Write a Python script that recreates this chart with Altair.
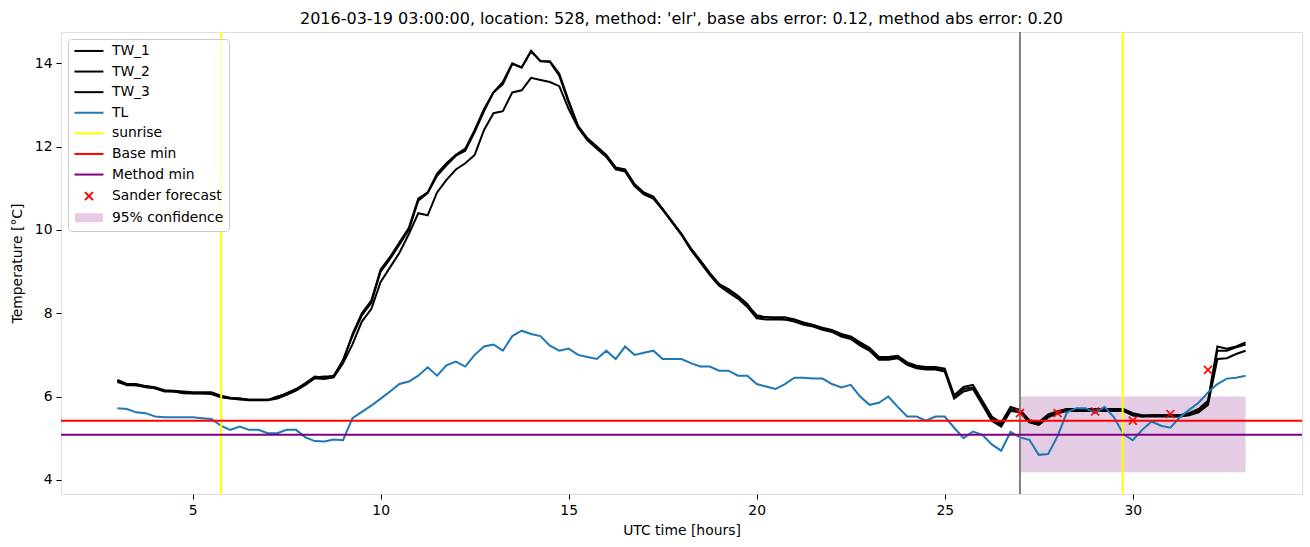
import altair as alt
import pandas as pd

# ---------------- data ----------------
hours = [round(3 + 0.25 * i, 2) for i in range(121)]

tw1 = [6.40, 6.30, 6.30, 6.25, 6.22, 6.15, 6.14, 6.12, 6.10, 6.10,
       6.10, 6.02, 5.97, 5.95, 5.92, 5.92, 5.92, 5.98, 6.08, 6.18,
       6.32, 6.48, 6.45, 6.50, 6.85, 7.50, 8.00, 8.30, 9.05, 9.35,
       9.70, 10.05, 10.75, 10.90, 11.35, 11.60, 11.80, 11.95, 12.40, 12.90,
       13.30, 13.55, 14.00, 13.90, 14.30, 14.05, 14.05, 13.75, 13.10, 12.50,
       12.20, 12.00, 11.80, 11.50, 11.45, 11.10, 10.90, 10.80, 10.50, 10.20,
       9.90, 9.55, 9.25, 8.95, 8.70, 8.55, 8.40, 8.20, 7.95, 7.90,
       7.90, 7.90, 7.85, 7.75, 7.72, 7.65, 7.60, 7.50, 7.44, 7.30,
       7.17, 6.95, 6.95, 6.98, 6.82, 6.74, 6.71, 6.71, 6.67, 6.03,
       6.23, 6.28, 5.90, 5.52, 5.37, 5.75, 5.68, 5.43, 5.38, 5.57,
       5.65, 5.70, 5.70, 5.70, 5.70, 5.70, 5.70, 5.70, 5.60, 5.55,
       5.55, 5.55, 5.55, 5.55, 5.60, 5.70, 5.90, 7.20, 7.15, 7.20,
       7.30]

tw2 = [6.35, 6.28, 6.27, 6.22, 6.20, 6.12, 6.12, 6.08, 6.07, 6.07,
       6.06, 5.98, 5.95, 5.93, 5.91, 5.91, 5.91, 5.95, 6.04, 6.14,
       6.28, 6.44, 6.42, 6.46, 6.80, 7.25, 7.80, 8.10, 8.75, 9.10,
       9.45, 9.90, 10.40, 10.35, 10.90, 11.20, 11.45, 11.60, 11.80, 12.40,
       12.80, 12.85, 13.30, 13.35, 13.65, 13.60, 13.55, 13.45, 12.90, 12.45,
       12.15, 11.95, 11.75, 11.45, 11.40, 11.05, 10.85, 10.75, 10.48, 10.18,
       9.88, 9.52, 9.22, 8.92, 8.66, 8.50, 8.35, 8.15, 7.88, 7.85,
       7.85, 7.85, 7.80, 7.72, 7.68, 7.60, 7.55, 7.44, 7.38, 7.22,
       7.10, 6.88, 6.88, 6.92, 6.76, 6.68, 6.65, 6.65, 6.60, 5.95,
       6.12, 6.18, 5.80, 5.42, 5.28, 5.65, 5.62, 5.38, 5.32, 5.50,
       5.60, 5.65, 5.65, 5.65, 5.65, 5.65, 5.65, 5.65, 5.55, 5.52,
       5.52, 5.52, 5.52, 5.52, 5.55, 5.62, 5.80, 6.90, 6.92, 7.02,
       7.10]

tw3 = [6.38, 6.27, 6.27, 6.25, 6.20, 6.14, 6.12, 6.10, 6.08, 6.08,
       6.08, 6.00, 5.96, 5.95, 5.92, 5.92, 5.92, 6.00, 6.06, 6.16,
       6.30, 6.46, 6.48, 6.48, 6.88, 7.45, 7.95, 8.25, 9.00, 9.30,
       9.65, 10.00, 10.70, 10.88, 11.30, 11.55, 11.78, 11.90, 12.35, 12.85,
       13.30, 13.50, 13.98, 13.90, 14.28, 14.05, 14.03, 13.70, 13.05, 12.48,
       12.18, 11.98, 11.78, 11.48, 11.42, 11.08, 10.88, 10.78, 10.50, 10.20,
       9.90, 9.55, 9.27, 8.97, 8.70, 8.58, 8.42, 8.22, 7.90, 7.90,
       7.88, 7.85, 7.85, 7.78, 7.72, 7.62, 7.58, 7.48, 7.40, 7.26,
       7.14, 6.92, 6.92, 6.95, 6.80, 6.70, 6.68, 6.68, 6.62, 6.00,
       6.18, 6.22, 5.85, 5.48, 5.32, 5.70, 5.65, 5.40, 5.35, 5.52,
       5.62, 5.70, 5.70, 5.68, 5.68, 5.70, 5.68, 5.68, 5.55, 5.52,
       5.55, 5.55, 5.55, 5.55, 5.58, 5.65, 5.85, 7.10, 7.10, 7.18,
       7.25]

tl = [5.72, 5.70, 5.62, 5.60, 5.52, 5.50, 5.50, 5.50, 5.50, 5.48,
      5.46, 5.30, 5.20, 5.28, 5.20, 5.20, 5.12, 5.12, 5.20, 5.20,
      5.02, 4.93, 4.92, 4.97, 4.95, 5.48, 5.63, 5.78, 5.95, 6.12,
      6.30, 6.36, 6.50, 6.70, 6.50, 6.75, 6.84, 6.72, 7.00, 7.20,
      7.25, 7.10, 7.45, 7.58, 7.50, 7.45, 7.22, 7.10, 7.15, 7.00,
      6.95, 6.90, 7.10, 6.90, 7.20, 7.00, 7.05, 7.10, 6.90, 6.90,
      6.90, 6.80, 6.72, 6.72, 6.62, 6.62, 6.50, 6.50, 6.30, 6.24,
      6.18, 6.30, 6.45, 6.45, 6.43, 6.43, 6.30, 6.22, 6.28, 6.00,
      5.80, 5.85, 6.00, 5.75, 5.52, 5.52, 5.42, 5.52, 5.52, 5.25,
      5.00, 5.16, 5.08, 4.85, 4.70, 5.15, 5.02, 4.96, 4.60, 4.62,
      5.05, 5.62, 5.72, 5.72, 5.60, 5.75, 5.50, 5.10, 4.95, 5.20,
      5.40, 5.30, 5.25, 5.50, 5.68, 5.85, 6.10, 6.30, 6.43, 6.45,
      6.50]

sunrise_hours = [5.76, 29.73]
forecast_hour = [27.0]
base_min = [5.42]
method_min = [5.08]
sander_hours = [27, 28, 29, 30, 31, 32]
sander_values = [5.60, 5.60, 5.64, 5.42, 5.58, 6.64]
conf_hours = [27.0, 33.0]
conf_bounds = [4.18, 6.00]

series_names = ["TW_1", "TW_2", "TW_3", "TL", "sunrise", "Base min",
                "Method min", "Sander forecast", "95% confidence"]
series_colors = ["#000000", "#000000", "#000000", "#1f77b4", "#ffff00",
                 "#ff0000", "#800080", "#ff0000", "#e3cce4"]

LINE = "M-2.9,0H2.9"
CROSS = "M-0.8,-0.8L0.8,0.8M0.8,-0.8L-0.8,0.8"
BOX = "M-2.8,-0.7H2.8M-2.8,-0.35H2.8M-2.8,0H2.8M-2.8,0.35H2.8M-2.8,0.7H2.8"
series_shapes = [LINE] * 7 + [CROSS, BOX]

# ---------------- tables ----------------
rows = []
for name, vals in [("TW_1", tw1), ("TW_2", tw2), ("TW_3", tw3), ("TL", tl)]:
    for h, v in zip(hours, vals):
        rows.append({"hour": h, "temp": v, "series": name})
lines_df = pd.DataFrame(rows)

sun_df = pd.DataFrame({"hour": sunrise_hours, "series": ["sunrise"] * len(sunrise_hours)})
fc_df = pd.DataFrame({"hour": forecast_hour})
hmin_df = pd.DataFrame({"temp": base_min + method_min,
                        "series": ["Base min"] * len(base_min) + ["Method min"] * len(method_min)})
sander_df = pd.DataFrame({"hour": sander_hours, "temp": sander_values,
                          "series": ["Sander forecast"] * len(sander_hours)})
conf_df = pd.DataFrame({"x1": [conf_hours[0]], "x2": [conf_hours[1]],
                        "y1": [conf_bounds[0]], "y2": [conf_bounds[1]]})

FONT = "DejaVu Sans"
xscale = alt.Scale(domain=[1.5, 34.5], nice=False, zero=False)
yscale = alt.Scale(domain=[3.66, 14.75], nice=False, zero=False)

xaxis = alt.Axis(values=[5, 10, 15, 20, 25, 30], title="UTC time [hours]", grid=False,
                 tickSize=5, tickColor="black", domain=False, labelFontSize=13.9,
                 labelColor="black", labelFont=FONT, labelPadding=4,
                 titleFont=FONT, titleFontSize=13.9, titleFontWeight="normal",
                 titleColor="black", titlePadding=7)
yaxis = alt.Axis(values=[4, 6, 8, 10, 12, 14], title="Temperature [°C]", grid=False,
                 tickSize=5, tickColor="black", domain=False, labelFontSize=13.9,
                 labelColor="black", labelFont=FONT, labelPadding=4,
                 titleFont=FONT, titleFontSize=13.9, titleFontWeight="normal",
                 titleColor="black", titlePadding=10)

# stroke scale covers only the drawn lines/rules (domain differs from the legend scale)
stroke_names = series_names[:7]
stroke_scale = alt.Scale(domain=stroke_names, range=series_colors[:7])

conf = alt.Chart(conf_df).mark_rect(color="#e3cce4").encode(
    x=alt.X("x1:Q", scale=xscale, axis=xaxis),
    x2="x2:Q",
    y=alt.Y("y1:Q", scale=yscale, axis=yaxis),
    y2="y2:Q",
)

lines = alt.Chart(lines_df).mark_line(strokeWidth=2).encode(
    x=alt.X("hour:Q", scale=xscale),
    y=alt.Y("temp:Q", scale=yscale),
    stroke=alt.Stroke("series:N", scale=stroke_scale, legend=None),
    detail="series:N",
)

sun = alt.Chart(sun_df).mark_rule(strokeWidth=2).encode(
    x=alt.X("hour:Q", scale=xscale),
    stroke=alt.Stroke("series:N", scale=stroke_scale, legend=None),
)

fc = alt.Chart(fc_df).mark_rule(strokeWidth=2, color="#808080").encode(
    x=alt.X("hour:Q", scale=xscale),
)

hmins = alt.Chart(hmin_df).mark_rule(strokeWidth=2).encode(
    y=alt.Y("temp:Q", scale=yscale),
    stroke=alt.Stroke("series:N", scale=stroke_scale, legend=None),
)

legend = alt.Legend(
    title=None, orient="none", legendX=7, legendY=7,
    symbolSize=100, symbolStrokeWidth=2, symbolOffset=9, labelOffset=16,
    labelFont=FONT, labelFontSize=13.9, labelColor="black", labelLimit=400,
    padding=5, rowPadding=5.6, fillColor="rgba(255,255,255,0.8)",
    strokeColor="#cccccc", cornerRadius=3,
)

sander = alt.Chart(sander_df).mark_point(filled=False, size=100, strokeWidth=1.6, opacity=1).encode(
    x=alt.X("hour:Q", scale=xscale),
    y=alt.Y("temp:Q", scale=yscale),
    color=alt.Color("series:N", scale=alt.Scale(domain=series_names, range=series_colors),
                    legend=legend),
    shape=alt.Shape("series:N", scale=alt.Scale(domain=series_names, range=series_shapes),
                    legend=legend),
)

chart = alt.layer(conf, lines, sun, fc, hmins, sander).properties(
    width=1241, height=462,
    title=alt.TitleParams(
        "2016-03-19 03:00:00, location: 528, method: 'elr', base abs error: 0.12, method abs error: 0.20",
        font=FONT, fontSize=16, fontWeight="normal", color="black", anchor="middle", offset=4,
    ),
    autosize=alt.AutoSizeParams(type="none"),
    padding={"left": 61, "top": 32, "right": 8, "bottom": 53},
).configure_view(stroke="black", strokeWidth=1).configure(background="white")

chart.save("out.html", embed_options={"renderer": "svg", "actions": False})
